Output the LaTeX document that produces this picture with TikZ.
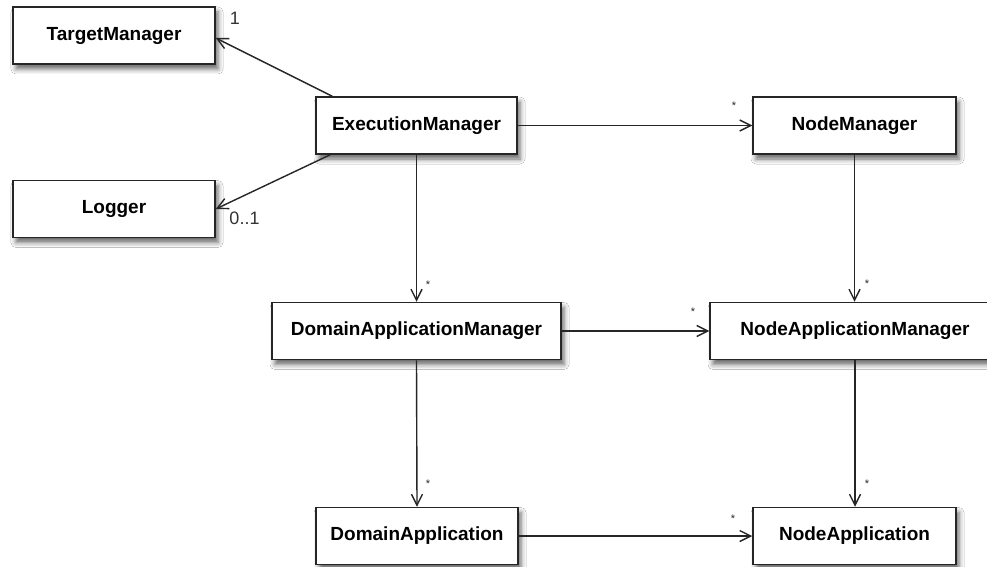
\documentclass[tikz,border=0pt]{standalone}
\usepackage{fontspec}
\setmainfont{Liberation Sans}
\usetikzlibrary{arrows.meta,shadows.blur}
\begin{document}
\begin{tikzpicture}[x=1pt,y=-1pt,
  cls/.style={draw=black!85, line width=1.5pt, fill=white, minimum height=57pt,
    inner sep=0pt, font=\fontsize{19}{22}\selectfont\bfseries,
    blur shadow={shadow xshift=3pt, shadow yshift=-5pt, shadow blur radius=5pt, shadow opacity=60}},
  assoc/.style={draw=black!85, line width=1.4pt, -{Straight Barb[length=11pt,width=11pt,line width=1.4pt]}},
  mult/.style={font=\fontsize{18}{20}\selectfont, text=black!80, inner sep=0pt},
  star/.style={font=\fontsize{11}{12}\selectfont, text=black!85, inner sep=0pt}]
\useasboundingbox (0,0) rectangle (987,567);
\clip (0,0) rectangle (987,567);
\fill[white] (0,0) rectangle (987,567);
\node[cls, minimum width=202pt] (tm) at (114,35.5) {TargetManager};
\node[cls, minimum width=202pt] (lg) at (114,209) {Logger};
\node[cls, minimum width=201pt] (em) at (416.5,125.5) {ExecutionManager};
\node[cls, minimum width=203pt] (nm) at (854.5,125.5) {NodeManager};
\node[cls, minimum width=289pt] (dam) at (416.5,331) {DomainApplicationManager};
\node[cls, minimum width=290pt] (nam) at (855,331) {NodeApplicationManager};
\node[cls, minimum width=202pt] (da) at (417,536) {DomainApplication};
\node[cls, minimum width=203pt] (na) at (854.5,536) {NodeApplication};
\coordinate (emtl) at ([xshift=17pt]em.north west);
\coordinate (embl) at ([xshift=15pt]em.south west);
\coordinate (tmend) at ([yshift=-2.5pt]tm.east);
\draw[assoc] (emtl) -- (tmend);
\draw[assoc] (embl) -- (lg.east);
\draw[assoc] (em.east) -- (nm.west);
\draw[assoc] (em.south) -- (dam.north);
\draw[assoc] (nm.south) -- (nam.north -| nm.south);
\draw[assoc] (dam.east) -- (nam.west);
\draw[assoc] (dam.south) -- (da.north);
\draw[assoc] (nam.south) -- (na.north -| nam.south);
\draw[assoc] (da.east) -- (na.west);
\node[mult] (m1) at (235,18.5) {1};
\node[mult] (m2) at (244.5,218.5) {0..1};
\node[star] (s1) at (734,106) {*};
\node[star] (s2) at (867,284) {*};
\node[star] (s3) at (693,312) {*};
\node[star] (s4) at (428,285) {*};
\node[star] (s5) at (428,484) {*};
\node[star] (s6) at (867,484) {*};
\node[star] (s7) at (733,519) {*};
\end{tikzpicture}
\end{document}
